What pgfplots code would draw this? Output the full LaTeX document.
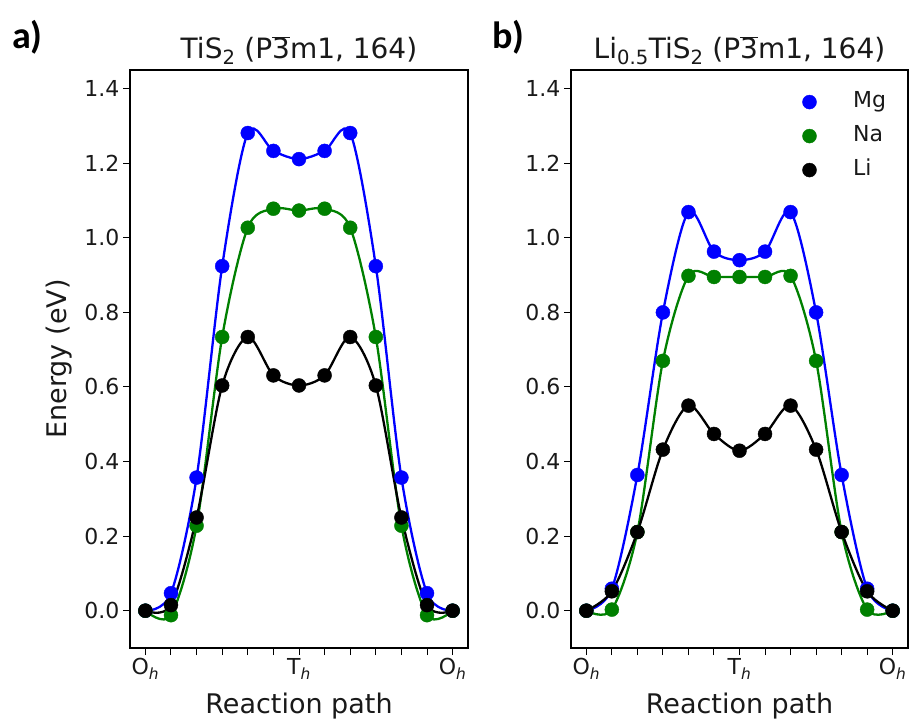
\documentclass[border=0pt]{standalone}
\usepackage{pgfplots}
\usepackage{pgfplotstable}
\pgfplotsset{compat=1.18}
\usepackage{fontspec}
\setmainfont{DejaVu Sans}
\newfontfamily\panelfont{Carlito}

\definecolor{mgc}{RGB}{0,0,255}
\definecolor{nac}{RGB}{0,128,0}

\pgfplotstableread{
x mg na li
0 0 0 0
1 0.047 -0.012 0.015
2 0.357 0.228 0.250
3 0.924 0.734 0.604
4 1.281 1.027 0.734
5 1.233 1.078 0.631
6 1.211 1.073 0.604
7 1.233 1.078 0.631
8 1.281 1.027 0.734
9 0.924 0.734 0.604
10 0.357 0.228 0.250
11 0.047 -0.012 0.015
12 0 0 0
}\dataA

\pgfplotstableread{
x mg na li
0 0 0 0
1 0.059 0.003 0.052
2 0.364 0.211 0.211
3 0.800 0.670 0.432
4 1.069 0.898 0.550
5 0.963 0.895 0.474
6 0.940 0.895 0.429
7 0.963 0.895 0.474
8 1.069 0.898 0.550
9 0.800 0.670 0.432
10 0.364 0.211 0.211
11 0.059 0.003 0.052
12 0 0 0
}\dataB

\pgfplotsset{
 panel/.style={
  scale only axis, anchor=south west,
  height=578pt,
  xmin=-0.6, xmax=12.6, ymin=-0.1, ymax=1.45,
  xtick={0,1,2,3,4,5,6,7,8,9,10,11,12},
  xticklabels={O\textsubscript{\textit{h}},,,,,,T\textsubscript{\textit{h}},,,,,,O\textsubscript{\textit{h}}},
  ytick={0,0.2,0.4,0.6,0.8,1.0,1.2,1.4},
  yticklabel style={/pgf/number format/.cd, fixed, fixed zerofill, precision=1, assume math mode=true},
  tick align=outside, tick pos=left, major tick length=7pt,
  tick style={line width=1pt, black},
  axis line style={line width=1.2pt, black},
  tick label style={font=\fontsize{22}{26}\selectfont, text=black!90},
  xlabel={Reaction path},
  xlabel style={at={(axis description cs:0.5,-0.114)}, anchor=base, font=\fontsize{27}{32}\selectfont, text=black!90},
  ylabel style={at={(axis description cs:-0.16,0.5)}, anchor=south, font=\fontsize{27}{32}\selectfont, text=black!90},
  title style={at={(axis description cs:0.5,1.0087)}, anchor=base, font=\fontsize{28}{33}\selectfont, text=black!90},
 },
 curve/.style={line width=2.3pt, smooth, tension=0.5, no marks, forget plot},
 dots/.style={only marks, mark=*, mark size=7pt, mark options={fill=#1, draw=#1}, color=#1},
}

\begin{document}
\begin{tikzpicture}[x=1pt,y=1pt]
\useasboundingbox (0,0) rectangle (912,723);

\begin{axis}[panel, at={(130pt,75pt)}, width=338pt,
  title={TiS\textsubscript{2} (P$\overline{\mbox{3}}$m1, 164)},
  ylabel={Energy (eV)}]
\addplot[curve, color=mgc] table[x=x,y=mg]{\dataA};
\addplot[dots=mgc] table[x=x,y=mg]{\dataA};
\addplot[curve, color=nac] table[x=x,y=na]{\dataA};
\addplot[dots=nac] table[x=x,y=na]{\dataA};
\addplot[curve, color=black] table[x=x,y=li]{\dataA};
\addplot[dots=black] table[x=x,y=li]{\dataA};
\end{axis}

\begin{axis}[panel, at={(571pt,75pt)}, width=337pt,
  title={Li\textsubscript{0.5}TiS\textsubscript{2} (P$\overline{\mbox{3}}$m1, 164)},
  legend style={draw=none, fill=none, inner sep=0pt, at={(0.6834,0.963)}, anchor=north west,
    nodes={inner sep=0pt, text height=16pt, text depth=5pt, anchor=west},
    font=\fontsize{22}{26}\selectfont, text=black!90, row sep=13pt},
  legend cell align=left,
  legend image code/.code={\path[draw=none] (0pt,0pt) -- (51.7pt,0pt); \draw[#1] plot coordinates {(8pt,0pt)};}]
\addplot[curve, color=mgc] table[x=x,y=mg]{\dataB};
\addplot[dots=mgc] table[x=x,y=mg]{\dataB};
\addlegendentry{Mg}
\addplot[curve, color=nac] table[x=x,y=na]{\dataB};
\addplot[dots=nac] table[x=x,y=na]{\dataB};
\addlegendentry{Na}
\addplot[curve, color=black] table[x=x,y=li]{\dataB};
\addplot[dots=black] table[x=x,y=li]{\dataB};
\addlegendentry{Li}
\end{axis}

\node[anchor=north west, inner sep=0pt, font=\panelfont\bfseries\fontsize{38}{44}\selectfont] at (12,703) {a)};
\node[anchor=north west, inner sep=0pt, font=\panelfont\bfseries\fontsize{38}{44}\selectfont] at (492,703) {b)};
\end{tikzpicture}
\end{document}
